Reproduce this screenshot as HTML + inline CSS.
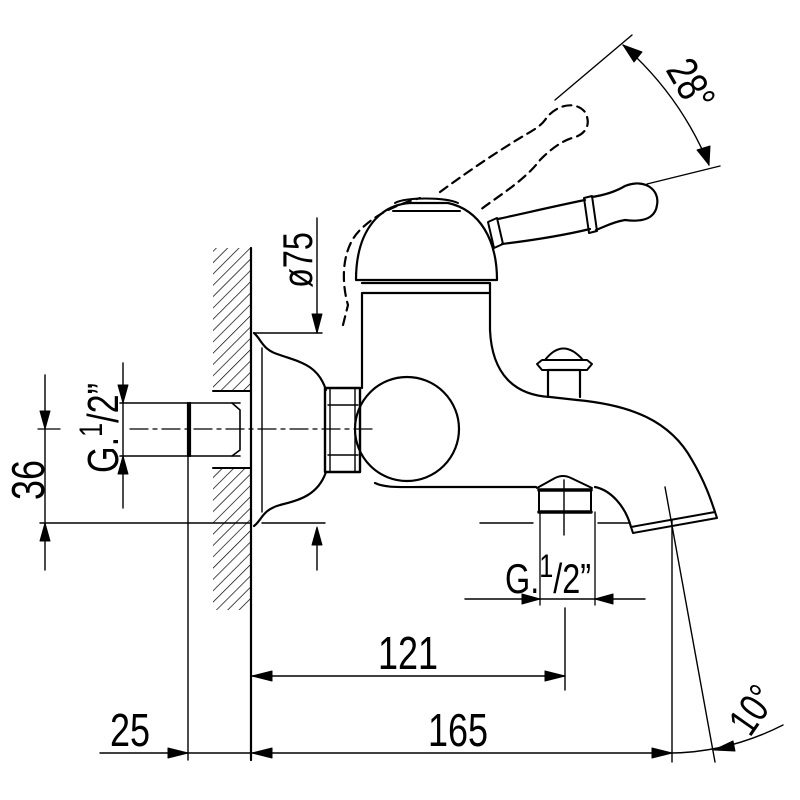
<!DOCTYPE html>
<html><head><style>html,body{margin:0;padding:0;background:#fff}svg{display:block}</style></head>
<body>
<svg width="800" height="800" viewBox="0 0 800 800" xmlns="http://www.w3.org/2000/svg" font-family="Liberation Sans, sans-serif">
<defs>
<pattern id="h" width="8" height="8" patternUnits="userSpaceOnUse" patternTransform="rotate(45)">
<line x1="0" y1="0" x2="0" y2="8" stroke="#000" stroke-width="1.4"/>
</pattern>
</defs>
<g stroke="#000" fill="none" stroke-linecap="round" stroke-linejoin="round">
<rect x="213" y="248" width="37" height="142" fill="url(#h)" stroke="none"/>
<rect x="213" y="468" width="37" height="142" fill="url(#h)" stroke="none"/>
<line x1="251" y1="248" x2="251" y2="760" stroke-width="2.2"/>
<line x1="213" y1="391" x2="250" y2="391" stroke-width="2"/>
<line x1="213" y1="468" x2="250" y2="468" stroke-width="2"/>

<line x1="120" y1="403" x2="240" y2="403" stroke-width="1.6"/>
<line x1="120" y1="456" x2="240" y2="456" stroke-width="1.6"/>
<path d="M188 403 V456 M190 403 V456" stroke-width="2.2"/>
<path d="M232 403 L240 410 V450 L232 456" stroke-width="1.6"/>
<line x1="188" y1="456" x2="188" y2="760" stroke-width="1.4"/>
<line x1="130" y1="429" x2="375" y2="429" stroke-width="1.3" stroke-dasharray="18,5,4,5"/>

<line x1="38" y1="429" x2="60" y2="429" stroke-width="1.3"/>
<line x1="40" y1="523" x2="250" y2="523" stroke-width="1.4"/>
<line x1="45" y1="375" x2="45" y2="570" stroke-width="1.4"/>
<path d="M40 411 L50 411 L45 429 Z M40 541 L50 541 L45 523 Z" fill="#000"/>
<text transform="translate(44,480) rotate(-90) scale(0.9,1.15)" font-size="40" text-anchor="middle" fill="#000" stroke="none">36</text>

<line x1="123" y1="363" x2="123" y2="508" stroke-width="1.4"/>
<path d="M118 385 L128 385 L123 403 Z M118 474 L128 474 L123 456 Z" fill="#000"/>
<text transform="translate(118,428) rotate(-90) scale(0.9,1.15)" font-size="38" text-anchor="middle" fill="#000" stroke="none">G.<tspan font-size="28" dy="-14">1</tspan><tspan dy="14">/2”</tspan></text>

<path d="M254 333 C262 340 262 350 280 355 C300 362 318 365 326 390 M326 472 C318 495 300 500 280 505 C262 510 262 520 254 526" stroke-width="2.2"/>
<line x1="262" y1="348" x2="262" y2="512" stroke-width="1.4"/>
<line x1="255" y1="333" x2="322" y2="333" stroke-width="1.4"/>
<line x1="317" y1="218" x2="317" y2="333" stroke-width="1.4"/>
<path d="M312 314 L322 314 L317 333 Z" fill="#000"/>
<text transform="translate(312,260) rotate(-90) scale(0.9,1.15)" font-size="36" text-anchor="middle" fill="#000" stroke="none">ø75</text>

<rect x="325" y="388" width="35" height="84" stroke-width="2.4"/>
<path d="M330 388 V472 M355 388 V472 M328 405 H358 M328 455 H358" stroke-width="1.4"/>
<circle cx="407" cy="429" r="52" stroke-width="2.2"/>

<path d="M362 388 V293 M362 293 H490 M362 283 H490 V293" stroke-width="2.2"/>
<path d="M356 280 C356 230 380 205 410 203 L448 203 C480 210 497 240 497 280 Z" stroke-width="2.2"/>
<path d="M395 203 C405 197 445 197 458 203 M393 211 H460" stroke-width="2"/>
<path d="M490 293 V330 C492 375 515 395 550 397 L577 400 C630 405 670 420 692 460 C705 482 711 500 715 512" stroke-width="2.2"/>
<path d="M631 527 L715 512 L717 518 L633 533 Z" stroke-width="2"/>
<path d="M375 483 C385 488 400 487 420 487 L536 487" stroke-width="2.2"/>
<path d="M595 487 C610 490 625 505 631 527" stroke-width="2.2"/>
<path d="M537 488 L555 478 Q563 474 571 478 L592 488" stroke-width="2"/>
<rect x="539" y="490" width="52" height="22" stroke-width="2"/>
<line x1="539" y1="490" x2="591" y2="490" stroke-width="3.5"/>
<line x1="539" y1="512" x2="591" y2="512" stroke-width="3.5"/>
<line x1="564" y1="480" x2="564" y2="535" stroke-width="1.4"/>
<line x1="540" y1="512" x2="540" y2="605" stroke-width="1.3"/>
<line x1="595" y1="512" x2="595" y2="605" stroke-width="1.3"/>
<line x1="262" y1="523" x2="325" y2="523" stroke-width="1.4"/>
<path d="M480 523 H533 M598 523 H630" stroke-width="1.4"/>
<path d="M548 397 V370 H580 V397" stroke-width="2.2"/>
<path d="M537 364 L542 360 H587 L592 364 L587 370 H542 Z" stroke-width="2"/>
<path d="M545 360 Q563 337 583 360" stroke-width="2"/>

<path d="M488 222 L497 218 L503 244 L494 248 Z" stroke-width="2"/>
<path d="M498 219 C530 212 560 205 585 200 M502 244 C535 240 565 235 590 229" stroke-width="2.2"/>
<path d="M584 198 L592 196 L597 231 L589 233 Z" stroke-width="2"/>
<path d="M592 197 C605 195 615 192 625 186 C645 178 660 190 657 205 C655 220 640 222 625 220 C612 222 602 228 596 230" stroke-width="2.2"/>

<g stroke-dasharray="9,6" stroke-width="2.2">
<path d="M343 325 L348 305 C342 285 340 250 360 230 C375 215 395 205 420 198"/>
<path d="M440 192 C470 170 500 150 520 138 C530 132 540 127 545 120 C555 105 575 100 585 112 C592 125 585 135 572 138 C560 142 550 150 540 160 C525 180 500 195 480 210"/>
</g>

<line x1="555" y1="100" x2="632" y2="35" stroke-width="1.4"/>
<line x1="647" y1="184" x2="720" y2="166" stroke-width="1.4"/>
<path d="M623 45 Q680 95 709 165" stroke-width="1.4"/>
<path d="M623 45 L642 52 L634 62 Z M709 165 L697 150 L710 146 Z" fill="#000"/>
<text transform="translate(678,92) rotate(60) scale(0.9,1.15)" font-size="38" text-anchor="middle" fill="#000" stroke="none">28°</text>

<line x1="465" y1="599" x2="645" y2="599" stroke-width="1.4"/>
<path d="M522 594 L522 604 L540 599 Z M613 594 L613 604 L595 599 Z" fill="#000"/>
<text transform="translate(505,593) scale(0.9,1.15)" font-size="36" fill="#000" stroke="none">G.<tspan font-size="28" dy="-14">1</tspan><tspan dy="14">/2”</tspan></text>

<line x1="317" y1="530" x2="317" y2="570" stroke-width="1.4"/>
<path d="M312 545 L322 545 L317 527 Z" fill="#000"/>

<line x1="565" y1="608" x2="565" y2="690" stroke-width="1.4"/>
<line x1="252" y1="676" x2="565" y2="676" stroke-width="1.4"/>
<path d="M252 676 L272 671 L272 681 Z M565 676 L545 671 L545 681 Z" fill="#000"/>
<text transform="translate(408,669) scale(0.9,1.15)" font-size="40" text-anchor="middle" fill="#000" stroke="none">121</text>

<line x1="672" y1="520" x2="672" y2="762" stroke-width="1.4"/>
<line x1="100" y1="753" x2="672" y2="753" stroke-width="1.4"/>
<path d="M188 753 L168 748 L168 758 Z M252 753 L272 748 L272 758 Z M672 753 L652 748 L652 758 Z" fill="#000"/>
<text transform="translate(458,746) scale(0.9,1.15)" font-size="40" text-anchor="middle" fill="#000" stroke="none">165</text>
<text transform="translate(130,746) scale(0.9,1.15)" font-size="40" text-anchor="middle" fill="#000" stroke="none">25</text>

<line x1="665" y1="487" x2="715" y2="762" stroke-width="1.4"/>
<path d="M672 753 Q730 752 783 725" stroke-width="1.4"/>
<path d="M714 750 L733 741 L735 751 Z" fill="#000"/>
<text transform="translate(764,718) rotate(-55) scale(0.9,1.15)" font-size="36" text-anchor="middle" fill="#000" stroke="none">10°</text>
</g>
</svg>
</body></html>
